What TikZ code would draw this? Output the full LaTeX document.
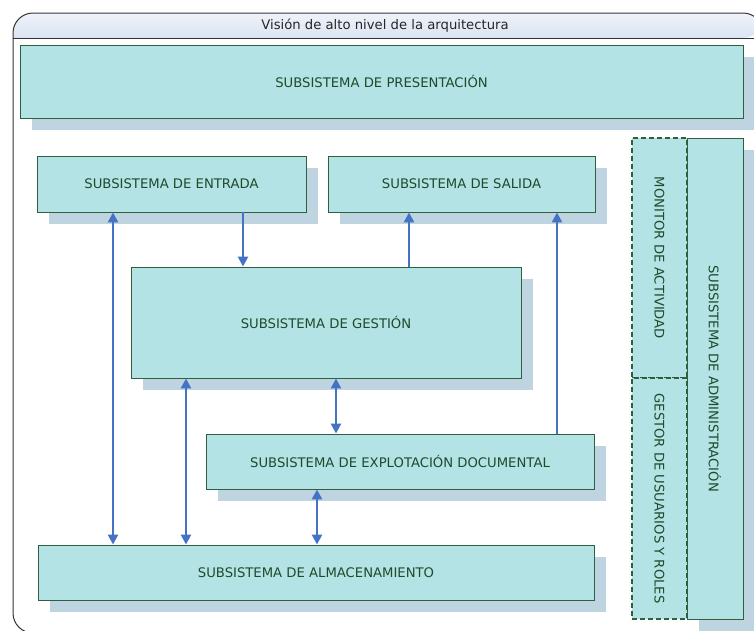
\documentclass[tikz,border=0pt]{standalone}
\usepackage{fontspec}
\setmainfont{DejaVu Sans}
\usetikzlibrary{arrows.meta,shadows}
\definecolor{boxfill}{HTML}{B3E3E4}
\definecolor{boxline}{HTML}{2F5F3D}
\definecolor{boxtext}{HTML}{1F4A2C}
\definecolor{shadowblue}{HTML}{BED4E0}
\definecolor{flowblue}{HTML}{4472C4}
\definecolor{titletop}{HTML}{EFF3FA}
\definecolor{titlebottom}{HTML}{DAE4F2}

\begin{document}
\begin{tikzpicture}[x=1pt, y=-1pt,
		font=\fontsize{13.2}{15}\selectfont,
		subsys/.style={draw=boxline, fill=boxfill, line width=0.9pt, text=boxtext, inner sep=0pt,
			drop shadow={shadow xshift=12pt, shadow yshift=-12pt, fill=shadowblue, opacity=1}},
		part/.style={draw=boxline, fill=boxfill, line width=1.4pt, dash pattern=on 5pt off 3pt, text=boxtext, inner sep=0pt},
		flow/.style={draw=flowblue, line width=2.7pt, -{Triangle[width=10pt,length=10pt]}},
		twoway/.style={flow, {Triangle[width=10pt,length=10pt]}-{Triangle[width=10pt,length=10pt]}},
	]
		\useasboundingbox (0,0) rectangle (754,630);
		\clip (0,0) rectangle (754,630);
	
		% frame and title bar
		\shade[top color=titletop, bottom color=titlebottom] (13,38) [rounded corners=20pt] -- (13,13) -- (763,13) -- (763,38) [sharp corners] -- cycle;
		\draw[line width=1pt, draw=black!80, rounded corners=20pt] (13,13) rectangle (763,633);
		\draw[line width=1pt, draw=black!80] (13,38) -- (763,38);
		\node[text=black!85] (title) at (385,26) {Visión de alto nivel de la arquitectura};
		
		\node[subsys, minimum width=723pt, minimum height=73pt] (pres) at (381.5,81.5) {SUBSISTEMA DE PRESENTACIÓN};
		\node[subsys, minimum width=269pt, minimum height=56pt] (entrada) at (171.5,184) {SUBSISTEMA DE ENTRADA};
		\node[subsys, minimum width=267pt, minimum height=56pt] (salida) at (461.5,184) {SUBSISTEMA DE SALIDA};
		\node[subsys, minimum width=390pt, minimum height=111pt] (gestion) at (326,322.5) {SUBSISTEMA DE GESTIÓN};
		\node[subsys, minimum width=388pt, minimum height=55pt] (explot) at (400,461.5) {SUBSISTEMA DE EXPLOTACIÓN DOCUMENTAL};
		\node[subsys, minimum width=556pt, minimum height=55pt] (almac) at (316,572.5) {SUBSISTEMA DE ALMACENAMIENTO};
		
		\node[part, minimum width=55pt, minimum height=240pt] (monitor) at (659.5,258) {\rotatebox{-90}{MONITOR DE ACTIVIDAD}};
		\node[part, minimum width=55pt, minimum height=241pt] (usuarios) at (659.5,498.5) {\rotatebox{-90}{GESTOR DE USUARIOS Y ROLES}};
		\node[subsys, minimum width=56pt, minimum height=481pt] (admin) at (715,378.5) {\rotatebox{-90}{SUBSISTEMA DE ADMINISTRACIÓN}};
		
		\draw[flow] (entrada.south -| 243,0) -- (gestion.north -| 243,0);
		\draw[flow] (gestion.north -| 409,0) -- (salida.south -| 409,0);
		\draw[flow] (explot.north -| 557,0) -- (salida.south -| 557,0);
		\draw[twoway] (entrada.south -| 113,0) -- (almac.north -| 113,0);
		\draw[twoway] (gestion.south -| 186,0) -- (almac.north -| 186,0);
		\draw[twoway] (gestion.south -| 336,0) -- (explot.north -| 336,0);
		\draw[twoway] (explot.south -| 317,0) -- (almac.north -| 317,0);
	\end{tikzpicture}
\end{document}
